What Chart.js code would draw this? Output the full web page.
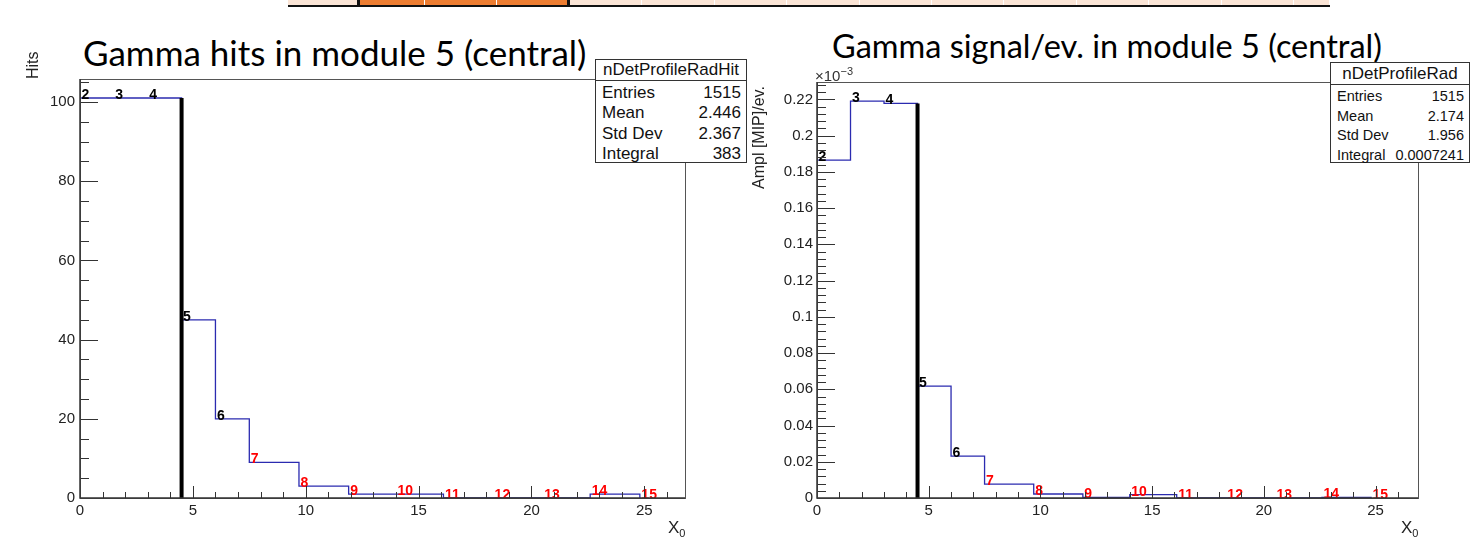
<!DOCTYPE html>
<html>
<head>
<meta charset="utf-8">
<script src="https://cdn.jsdelivr.net/npm/chart.js@4.4.1/dist/chart.umd.min.js"></script>
<style>
    body { margin: 0; background: #fff; width: 1476px; height: 553px; position: relative; overflow: hidden; font-family: "Liberation Sans", Arial, sans-serif; color: #111; }
    .abs { position: absolute; }
    .strip { position: absolute; top: 0; height: 5px; background: #fbe5d6; border-right: 1px solid #fff; box-sizing: border-box; }
    .strip.hot { background: #ed7d31; }
    .strip-line { position: absolute; left: 288px; top: 5px; width: 1042px; height: 2px; background: #111; }
    .title { position: absolute; font-family: Lato, "Open Sans", sans-serif; color: #000; white-space: nowrap; line-height: 1; }
    .stats { position: absolute; background: #fff; border: 1px solid #333; box-sizing: border-box; }
    .stats .head { border-bottom: 1px solid #333; text-align: center; white-space: nowrap; }
    .stats .row { display: flex; justify-content: space-between; padding: 0 5px 0 6px; white-space: nowrap; }
    .vtitle { position: absolute; transform-origin: 0 0; transform: rotate(-90deg); font-size: 16px; color: #222; white-space: nowrap; line-height: 1; }
    .xtitle { position: absolute; font-size: 17px; color: #222; line-height: 1; }
    .xtitle sub { font-size: 11px; }
</style>
</head>
<body>
<div id="strip"></div>

<div class="title" style="left:83px; top:35px; font-size:35px;">Gamma hits in module 5 (central)</div>
<div class="title" style="left:832px; top:30px; font-size:32.5px;">Gamma signal/ev. in module 5 (central)</div>

<canvas id="hitsChart" class="abs" style="left:0; top:0;" width="740" height="553"></canvas>
<canvas id="signalChart" class="abs" style="left:740px; top:0;" width="736" height="553"></canvas>

<div class="vtitle" style="left:25px; top:79px;">Hits</div>
<div class="vtitle" style="left:751px; top:189px;">Ampl [MIP]/ev.</div>
<div class="abs" style="left:815px; top:65px; font-size:15px; color:#333;">&times;10<sup style="font-size:11px;">&minus;3</sup></div>
<div class="xtitle" style="left:668px; top:519px;">X<sub>0</sub></div>
<div class="xtitle" style="left:1401px; top:519px;">X<sub>0</sub></div>

<div id="statsHits" class="stats" style="left:595px; top:59px; width:152px; height:104px;"></div>
<div id="statsSignal" class="stats" style="left:1330px; top:62px; width:140px; height:101px;"></div>

<script>
    // layers of the calorimeter module, edges in X0
    const layerNumbers = [2, 3, 4, 5, 6, 7, 8, 9, 10, 11, 12, 13, 14, 15];
    const layerEdges = [0, 1.5, 3.0, 4.5, 6.0, 7.5, 9.7, 11.9, 14.0, 16.1, 18.3, 20.5, 22.6, 24.8];

    // bin contents (one per layer, last edge closes the histogram)
    const hitsValues = [101, 101, 101, 45, 20, 9, 3, 1, 1, 0, 0, 0, 1];
    const signalValues = [0.1865, 0.219, 0.2178, 0.0618, 0.0231, 0.0077, 0.0022, 0.0003, 0.0019, 0, 0, 0, 0.0004]; // x10^-3

    const markerX = 4.5;

    const xTicks = [0, 5, 10, 15, 20, 25];
    const xTickLabels = ['0', '5', '10', '15', '20', '25'];
    const hitsTicks = [0, 20, 40, 60, 80, 100];
    const hitsTickLabels = ['0', '20', '40', '60', '80', '100'];
    const signalTicks = [0, 0.02, 0.04, 0.06, 0.08, 0.1, 0.12, 0.14, 0.16, 0.18, 0.2, 0.22];
    const signalTickLabels = ['0', '0.02', '0.04', '0.06', '0.08', '0.1', '0.12', '0.14', '0.16', '0.18', '0.2', '0.22'];

    const hitsStats = [['Entries', '1515'], ['Mean', '2.446'], ['Std Dev', '2.367'], ['Integral', '383']];
    const signalStats = [['Entries', '1515'], ['Mean', '2.174'], ['Std Dev', '1.956'], ['Integral', '0.0007241']];

    // top strip (piece of the slide table)
    const stripEdges = [288, 358, 425, 497, 569, 642, 715, 787, 860, 932, 1004, 1077, 1149, 1222, 1294, 1330];
    const stripHot = [1, 2, 3];

    const strip = document.getElementById('strip');
    for (let i = 0; i < stripEdges.length - 1; i++) {
        const c = document.createElement('div');
        c.className = 'strip' + (stripHot.includes(i) ? ' hot' : '');
        c.style.left = stripEdges[i] + 'px';
        c.style.width = (stripEdges[i + 1] - stripEdges[i]) + 'px';
        strip.appendChild(c);
    }
    strip.insertAdjacentHTML('beforeend', '<div class="strip-line"></div>' +
        '<div class="abs" style="left:357px;top:0;width:3px;height:7px;background:#111"></div>' +
        '<div class="abs" style="left:567px;top:0;width:3px;height:7px;background:#111"></div>');

    function fillStats(id, title, rows, headH, headFont, rowFont, rowH, padTop) {
        const el = document.getElementById(id);
        let html = `<div class="head" style="height:${headH}px; line-height:${headH}px; font-size:${headFont}px;">${title}</div>`;
        html += `<div style="padding-top:${padTop}px;">`;
        rows.forEach(r => {
            html += `<div class="row" style="height:${rowH}px; line-height:${rowH}px; font-size:${rowFont}px;"><span>${r[0]}</span><span>${r[1]}</span></div>`;
        });
        html += `</div>`;
        el.innerHTML = html;
    }
    fillStats('statsHits', 'nDetProfileRadHit', hitsStats, 20, 17, 17, 20.4, 2);
    fillStats('statsSignal', 'nDetProfileRad', signalStats, 21, 17, 14.5, 19.5, 2);

    function histPoints(values) {
        const pts = [{ x: layerEdges[0], y: 0 }];
        layerEdges.forEach((e, i) => pts.push({ x: e, y: i < values.length ? values[i] : 0 }));
        return pts;
    }

    // ROOT-like frame, inside ticks and layer numbers
    const rootStyle = {
        id: 'rootStyle',
        afterDatasetsDraw(chart, args, opts) {
            const { ctx, chartArea: a, scales } = chart;
            const xs = scales.x, ys = scales.y;
            ctx.save();

            ctx.font = 'bold 14px "Liberation Sans", Arial, sans-serif';
            ctx.textBaseline = 'alphabetic';
            ctx.textAlign = 'left';
            layerNumbers.forEach((n, i) => {
                const v = i < opts.values.length ? opts.values[i] : 0;
                ctx.fillStyle = n >= 7 ? '#ff0000' : '#000';
                ctx.fillText(String(n), xs.getPixelForValue(layerEdges[i]) + 1.5, ys.getPixelForValue(v) + 1);
            });

            ctx.strokeStyle = '#333';
            ctx.lineWidth = 1;
            ctx.beginPath();
            for (let v = 0; v <= xs.max; v += 1) {
                const px = Math.round(xs.getPixelForValue(v)) + 0.5;
                const len = v % 5 === 0 ? 12 : 6;
                ctx.moveTo(px, a.bottom);
                ctx.lineTo(px, a.bottom - len);
            }
            const step = opts.yMinor;
            const nMinor = Math.floor(ys.max / step + 1e-6);
            for (let k = 0; k <= nMinor; k++) {
                const py = Math.round(ys.getPixelForValue(k * step)) + 0.5;
                const len = k % opts.yMajorEvery === 0 ? 18 : 9;
                ctx.moveTo(a.left, py);
                ctx.lineTo(a.left + len, py);
            }
            ctx.stroke();

            ctx.strokeStyle = '#555';
            ctx.strokeRect(a.left + 0.5, a.top + 0.5, a.right - a.left, a.bottom - a.top);
            ctx.strokeStyle = '#333';
            ctx.lineWidth = 1.5;
            ctx.beginPath();
            ctx.moveTo(a.left, a.top);
            ctx.lineTo(a.left, a.bottom);
            ctx.lineTo(a.right, a.bottom);
            ctx.stroke();
            ctx.restore();
        }
    };

    function makeChart(canvasId, values, yMax, yTicks, yLabels, geom, yMinor, yMajorEvery) {
        const ctx = document.getElementById(canvasId).getContext('2d');
        const tickFont = { family: '"Liberation Sans", Arial, sans-serif', size: 15 };
        return new Chart(ctx, {
            type: 'line',
            data: {
                datasets: [
                    {
                        data: histPoints(values),
                        stepped: 'before',
                        borderColor: '#2b2bb0',
                        borderWidth: 1.3,
                        pointRadius: 0,
                        fill: false,
                        order: 1
                    },
                    {
                        data: [{ x: markerX, y: 0 }, { x: markerX, y: values[2] }],
                        borderColor: '#000',
                        borderWidth: 4,
                        pointRadius: 0,
                        fill: false,
                        order: 0
                    }
                ]
            },
            options: {
                responsive: false,
                animation: false,
                layout: { padding: { top: geom.top, right: geom.right, left: 0, bottom: 0 } },
                plugins: {
                    legend: { display: false },
                    tooltip: { enabled: false },
                    rootStyle: { values: values, yMinor: yMinor, yMajorEvery: yMajorEvery }
                },
                scales: {
                    x: {
                        type: 'linear',
                        min: 0,
                        max: geom.xMax,
                        grid: { display: false, drawTicks: false, tickLength: 0 },
                        border: { display: false },
                        afterBuildTicks: (s) => { s.ticks = xTicks.map(v => ({ value: v })); },
                        afterFit: (s) => { s.height = 553 - geom.bottom; },
                        ticks: {
                            font: tickFont,
                            color: '#222',
                            padding: 4,
                            maxRotation: 0,
                            callback: (v, i) => xTickLabels[i]
                        }
                    },
                    y: {
                        type: 'linear',
                        min: 0,
                        max: yMax,
                        grid: { display: false, drawTicks: false, tickLength: 0 },
                        border: { display: false },
                        afterBuildTicks: (s) => { s.ticks = yTicks.map(v => ({ value: v })); },
                        afterFit: (s) => { s.width = geom.left; },
                        ticks: {
                            font: tickFont,
                            color: '#222',
                            padding: geom.yPad,
                            callback: (v, i) => yLabels[i]
                        }
                    }
                }
            },
            plugins: [rootStyle]
        });
    }

    makeChart('hitsChart', hitsValues, 105.8, hitsTicks, hitsTickLabels,
        { left: 80, top: 79, right: 55, bottom: 498, xMax: 26.8, yPad: 5 }, 5, 4);
    makeChart('signalChart', signalValues, 0.2296, signalTicks, signalTickLabels,
        { left: 77, top: 82, right: 58, bottom: 498, xMax: 26.9, yPad: 4 }, 0.004, 5);
</script>
</body>
</html>
